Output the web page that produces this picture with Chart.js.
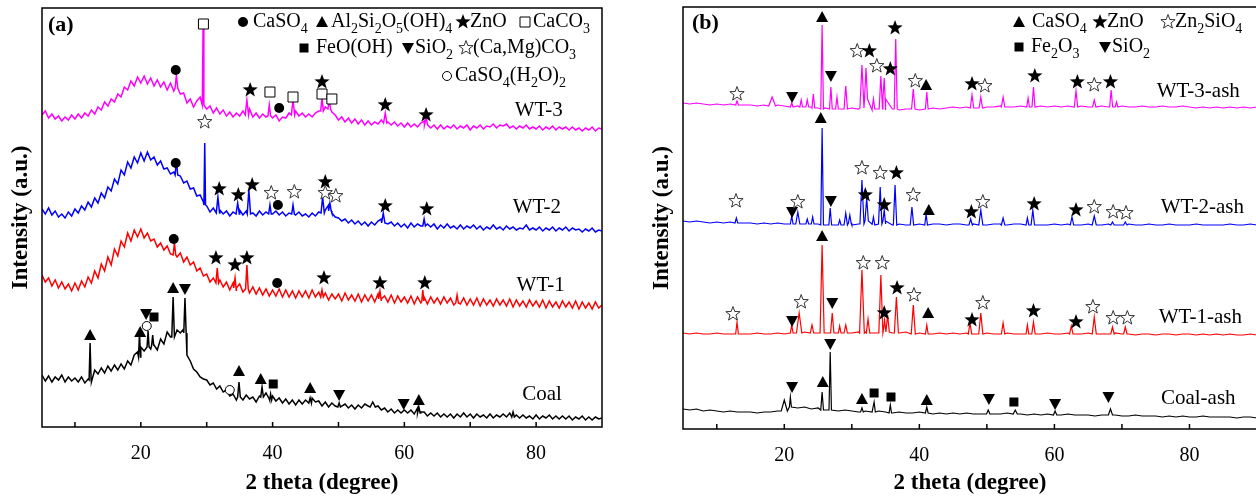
<!DOCTYPE html>
<html lang="en">
<head>
<meta charset="UTF-8">
<title>XRD patterns (a) raw samples, (b) ashes</title>
<script src="https://cdn.jsdelivr.net/npm/chart.js"></script>
<style>
  html, body { margin: 0; background: #fff; overflow: hidden; width: 1256px; height: 499px; }
  canvas { position: absolute; top: 0; }
  #chartA { left: 0; }
  #chartB { left: 630px; }
</style>
</head>
<body>
<canvas id="chartA" width="620" height="499"></canvas>
<canvas id="chartB" width="640" height="499"></canvas>

<script>
const FONT = '"Liberation Serif", "Times New Roman", serif';

// x axis: 2 theta in degrees, ticks every 10, labels every 20
const tickDeg = [10, 20, 30, 40, 50, 60, 70, 80];

// --- panel (a): traces sampled every 0.5 deg from 5 to 90 (stacked intensity, a.u.) ---
const A_START = 5, A_STEP = 0.5;

const wt3A = [
  312,316,309,313,308,311,306,310,307,312,
  308,313,309,314,311,317,313,320,317,325,
  321,328,325,333,330,340,337,346,341,350,
  344,351,343,349,341,347,340,345,337,344,
  336,344,333,334,324,328,320,326,330,318,
  318,321,314,319,313,317,311,315,310,314,
  311,316,318,318,310,314,309,313,310,314,
  309,312,306,310,309,314,315,316,311,314,
  310,313,310,314,316,322,320,324,315,312,
  307,310,305,309,304,308,303,307,302,306,
  302,305,303,307,308,305,302,305,301,304,
  300,304,300,303,300,304,306,304,299,302,
  298,302,298,301,299,302,298,301,299,302,
  297,301,299,302,298,301,300,303,299,302,
  301,303,299,301,298,301,299,302,298,300,
  298,301,297,300,298,301,297,300,298,300,
  297,300,297,299,296,299,297,300,296,299,
  298
];
const wt2A = [
  218,213,219,212,216,210,213,209,215,211,
  218,214,221,217,225,220,229,224,234,229,
  240,236,248,243,257,252,265,259,270,264,
  274,266,275,267,270,262,266,258,259,253,
  255,248,251,244,246,238,239,231,232,225,
  221,215,219,214,217,213,216,211,215,212,
  217,212,216,218,214,211,216,212,215,217,
  213,216,212,215,211,214,216,212,215,211,
  213,210,214,211,215,219,217,222,214,210,
  209,206,208,204,207,203,206,202,205,201,
  205,202,206,208,206,203,205,201,204,200,
  203,199,204,200,203,201,205,203,200,203,
  198,202,199,203,199,201,198,202,198,201,
  199,202,198,201,197,200,198,202,198,200,
  197,201,198,200,197,199,198,202,197,199,
  197,200,196,199,197,200,196,199,197,200,
  196,199,197,198,195,198,196,199,195,197,
  196
];
const wt1A = [
  152,145,149,141,147,139,145,138,143,136,
  144,137,146,140,150,144,156,149,163,156,
  170,162,178,171,186,180,194,186,197,190,
  198,189,194,186,188,180,184,177,181,173,
  178,170,174,165,170,162,165,156,159,151,
  153,145,149,142,147,140,145,137,144,136,
  143,135,142,134,140,133,139,132,138,131,
  137,131,138,130,137,130,136,129,136,130,
  136,129,137,130,135,128,134,127,133,128,
  133,126,134,127,132,126,133,125,132,126,
  132,125,133,126,131,125,132,124,131,125,
  130,124,131,123,130,124,130,123,130,124,
  129,123,130,124,129,122,128,123,129,122,
  128,122,129,121,128,122,127,121,128,122,
  127,121,128,120,127,121,126,120,127,121,
  126,120,127,119,126,120,125,119,126,120,
  125,119,126,118,125,119,124,118,125,119,
  122
];
const coalA = [
  52,46,51,45,50,47,52,45,50,46,
  49,45,50,44,48,45,57,53,59,54,
  61,56,62,57,63,58,66,62,72,75,
  80,76,85,78,82,77,88,83,95,90,
  99,97,94,98,72,66,58,55,50,48,
  47,42,44,38,41,35,37,31,33,27,
  31,27,32,28,30,25,31,29,34,28,
  31,26,29,24,28,23,27,22,27,23,
  27,24,29,25,26,21,25,20,24,21,
  26,21,23,19,22,18,22,19,23,21,
  25,22,21,17,19,15,18,14,17,14,
  17,14,17,13,19,15,15,11,14,11,
  14,10,13,10,13,9,13,10,14,10,
  13,9,13,10,12,9,13,9,12,10,
  13,10,14,11,12,9,12,9,11,8,
  12,8,11,9,12,8,11,8,11,8,
  11,7,10,8,11,7,10,7,10,8,
  9
];

// sharp reflections: [2theta, top, foot, half width]
const wt3PkA = [[25.4,352,339,.2],[29.45,400,322,.12],[36.1,327,312,.25],[39.5,322,311,.2],[43.1,327,312,.25],
  [47.5,329,316,.2],[48.6,327,318,.2],[57.1,314,304,.25],[63.3,309,302,.25]];
const wt2PkA = [[25.4,266,252,.2],[29.7,284,222,.12],[31.7,230,214,.25],[34.7,224,213,.25],[36.4,237,213,.25],
  [39.6,222,213,.2],[43.1,222,213,.2],[47.6,230,214,.25],[48.7,224,216,.2],[56.8,214,204,.25],[63.0,208,201,.2]];
const wt1PkA = [[25.1,184,172,.2],[31.6,159,144,.2],[34.3,149,139,.2],[36.1,162,138,.2],[47.5,137,130,.2],
  [56.3,136,128,.2],[62.8,137,126,.15],[68.0,132,124,.2]];
const coalPkA = [[12.3,84,47,.15],[19.8,94,70,.15],[21.1,96,80,.15],[21.8,92,82,.15],[24.9,130,90,.2],
  [26.7,129,94,.18],[34.9,45,30,.2],[38.4,40,30,.2],[39.7,33,27,.15],[45.7,29,24,.2],[50.1,24,20,.2],
  [55.2,25,20,.4],[62.2,20,14,.2],[76.5,15,10,.2]];

// --- panel (b): ash traces sampled every 1 deg from 5 to 90 ---
const B_START = 5, B_STEP = 1;

const wt3B = [
  326,325,326,325,324,325,324,325,324,324,
  324,323,324,323,324,323,322,323,322,322,
  321,321,320,321,320,321,320,320,319,320,
  319,320,319,320,320,319,320,321,320,321,
  322,321,322,322,321,322,322,323,322,322,
  323,322,322,323,322,323,322,323,322,323,
  322,322,323,322,322,323,322,322,323,322,
  322,323,322,322,323,322,321,322,321,322,
  321,322,321,322,321,322
];
const wt2B = [
  208,207,208,207,206,207,206,207,206,206,
  206,205,206,205,206,205,205,206,205,205,
  205,204,205,204,205,204,205,204,205,204,
  205,204,205,204,205,205,204,205,205,204,
  205,205,204,205,205,204,205,205,204,205,
  205,204,205,204,204,205,204,205,204,204,
  205,204,204,205,204,204,205,204,204,205,
  204,204,205,204,204,204,205,204,204,204,
  204,205,204,204,205,204
];
const wt1B = [
  96,95,96,95,95,96,95,95,96,95,
  95,96,95,95,96,95,96,96,97,96,
  96,96,97,96,97,96,97,97,96,97,
  97,96,96,97,96,96,96,95,96,95,
  96,95,96,95,95,96,95,95,96,95,
  95,96,95,95,96,95,95,96,95,95,
  96,95,95,95,96,95,95,94,95,95,
  94,95,95,94,95,95,94,95,94,95,
  94,95,94,94,95,94
];
const coalB = [
  20,19,20,18,19,18,17,18,17,17,
  17,16,17,17,18,20,22,21,22,20,
  21,19,19,18,19,18,17,18,17,18,
  17,16,17,16,16,17,16,15,16,15,
  16,15,16,15,15,16,15,15,16,15,
  15,14,15,14,15,14,14,15,14,14,
  14,13,14,13,14,13,13,14,13,13,
  13,12,13,12,13,12,12,13,12,12,
  12,12,11,12,12,11
];

const wt3PkB = [[13.0,328,324,.2],[18.2,332,323,.5],[21.1,326,322,.2],[22.5,329,322,.2],[23.4,329,322,.2],
  [24.3,335,321,.2],[25.6,404,320,.2],[26.9,342,320,.2],[27.8,332,320,.2],[29.1,343,320,.25],
  [31.5,364,321,.3],[32.1,361,330,.22],[33.2,330,320,.2],[34.3,353,320,.25],[34.8,351,330,.2],
  [36.5,390,320,.22],[39.1,340,320,.25],[41.1,337,320,.2],[47.8,334,321,.25],[49.1,332,321,.25],
  [52.4,332,322,.25],[56.1,331,322,.2],[56.9,342,322,.22],[63.2,338,322,.25],[65.9,329,322,.25],
  [68.4,339,322,.22],[69.2,327,322,.2]];
const wt2PkB = [[12.9,211,206,.2],[21.1,213,205,.2],[22.0,217,205,.3],[23.4,210,205,.2],[24.2,212,205,.2],
  [25.6,301,204,.2],[26.8,221,204,.2],[28.2,209,204,.2],[29.1,216,204,.25],[29.7,214,206,.2],
  [31.5,249,205,.3],[32.2,231,208,.25],[33.2,212,204,.2],[34.2,242,205,.25],[34.8,219,208,.2],
  [36.4,244,204,.25],[38.9,222,204,.25],[41.0,215,204,.2],[47.6,210,204,.25],[49.1,219,204,.3],
  [52.4,211,204,.25],[56.0,211,204,.2],[56.8,219,204,.25],[62.6,212,204,.25],[65.9,213,204,.3],
  [68.6,207,204,.25],[70.5,207,204,.25]];
const wt1PkB = [[13.0,107,95,.2],[21.1,104,96,.2],[22.2,116,96,.4],[24.1,104,96,.25],[25.6,184,96,.3],
  [27.1,116,96,.25],[28.2,103,96,.2],[29.1,104,96,.25],[31.5,159,96,.35],[32.4,110,96,.25],
  [34.3,154,96,.3],[34.85,109,100,.15],[35.3,114,97,.25],[36.6,132,96,.3],[39.1,124,95,.3],
  [41.1,104,95,.2],[47.5,106,95,.25],[49.1,116,95,.3],[52.4,106,95,.25],[56.0,104,95,.2],
  [56.9,107,95,.25],[62.5,103,95,.25],[65.9,112,95,.3],[68.6,102,95,.25],[70.5,102,95,.25]];
const coalPkB = [[20.0,29,18,.45],[20.9,32,22,.15],[25.6,37,19,.2],[26.8,77,19,.18],[31.5,21,17,.2],
  [33.3,27,17,.18],[35.7,24,16,.18],[41.1,22,16,.2],[50.2,19,15,.25],[54.2,19,15,.3],
  [60.1,18,14,.25],[68.3,20,14,.3]];

// phase markers: [symbol, 2theta, intensity]
const marksA = [
  ['dot',25.3,357],['sq',29.5,403],['ostar',29.7,305],['star',36.6,337],['sq',39.6,335],['dot',41.0,319],
  ['sq',43.1,330],['star',47.5,345],['sq',47.5,333],['sq',49.0,328],['star',57.1,322],['star',63.3,312],
  ['dot',25.3,264],['star',31.9,238],['star',34.8,232],['star',36.9,242],['ostar',39.8,234],['dot',40.8,222],
  ['ostar',43.3,235],['star',48.0,245],['ostar',48.0,234],['ostar',49.6,231],['star',57.1,221],['star',63.4,218],
  ['dot',25.0,188],['star',31.4,169],['star',34.3,162],['star',36.1,169],['dot',40.7,144],['star',47.8,149],
  ['star',56.3,144],['star',63.1,144],
  ['tri',12.3,92],['tri',19.9,95],['dtri',20.8,113],['fsq',22.0,110],['ocirc',20.9,101],['tri',24.9,139],
  ['dtri',26.7,138],['ocirc',33.5,37],['tri',34.9,56],['tri',38.2,48],['fsq',40.1,43],['tri',45.7,39],
  ['dtri',50.1,32],['dtri',59.9,23],['tri',62.2,27]
];
const marksB = [
  ['ostar',13.0,335],['dtri',21.15,332],['tri',25.6,412],['dtri',26.9,353],['ostar',30.8,378],['star',32.6,378],
  ['ostar',33.7,363],['star',35.7,360],['star',36.4,401],['ostar',39.4,348],['tri',41.0,344],['star',47.8,345],
  ['ostar',49.7,343],['star',57.1,353],['star',63.4,347],['ostar',65.9,344],['star',68.3,347],
  ['ostar',12.85,228],['dtri',21.15,217],['ostar',22.0,227],['tri',25.4,311],['dtri',26.9,228],['ostar',31.5,261],
  ['star',32.0,234],['ostar',34.2,256],['star',34.8,224],['star',36.6,256],['ostar',39.1,234],['tri',41.4,219],
  ['star',47.7,217],['ostar',49.4,227],['star',57.0,225],['star',63.2,219],['ostar',65.9,222],['ostar',68.7,217],
  ['ostar',70.6,216],
  ['ostar',12.4,115],['dtri',21.15,108],['ostar',22.5,127],['tri',25.6,193],['dtri',27.1,126],['ostar',31.7,166],
  ['ostar',34.5,166],['star',34.8,116],['star',36.7,141],['ostar',39.2,134],['tri',41.3,116],['star',47.8,109],
  ['ostar',49.4,126],['star',56.9,118],['star',63.2,107],['ostar',65.7,122],['ostar',68.7,111],['ostar',70.8,111],
  ['dtri',21.15,42],['tri',25.7,47],['dtri',26.8,85],['tri',31.5,30],['fsq',33.3,36],['fsq',35.8,32],
  ['tri',41.1,29],['dtri',50.3,30],['fsq',54.0,27],['dtri',60.1,25],['dtri',68.0,32]
];

// sample names: [text, 2theta, intensity]
const namesA = [['WT-3',80.4,317],['WT-2',80.1,220],['WT-1',80.7,142],['Coal',80.9,33]];
const namesB = [['WT-3-ash',81.3,338],['WT-2-ash',81.9,222],['WT-1-ash',81.6,112],['Coal-ash',81.3,31]];

// phase keys: [symbol, symbol x, text x, y, text]  ("_n" = subscript)
const keyA = [
  ['dot',243,253,22,'CaSO_4'],['tri',322,331,22,'Al_2Si_2O_5(OH)_4'],['star',463,470,22,'ZnO'],
  ['sq',525,533,22,'CaCO_3'],['fsq',304,316,48,'FeO(OH)'],['dtri',408,415,48,'SiO_2'],
  ['ostar',466,473,48,'(Ca,Mg)CO_3'],['ocirc',447,455,76,'CaSO_4(H_2O)_2']
];
const keyB = [
  ['tri',389,402,22,'CaSO_4'],['star',470,477,22,'ZnO'],['ostar',538,545,22,'Zn_2SiO_4'],
  ['fsq',389,401,47,'Fe_2O_3'],['dtri',475,482,47,'SiO_2']
];

function buildTrace(base, start, step, peaks) {
  const pts = [];
  base.forEach((v, i) => {
    const x = start + i * step;
    if (!peaks.some(p => Math.abs(x - p[0]) <= p[3])) pts.push({ x, y: v });
  });
  peaks.forEach(([x, top, foot, hw]) => {
    pts.push({ x: x - hw, y: foot }, { x, y: top }, { x: x + hw, y: foot });
  });
  return pts.sort((a, b) => a.x - b.x);
}

function starPath(ctx, x, y, R, r) {
  ctx.beginPath();
  for (let i = 0; i < 10; i++) {
    const a = -Math.PI / 2 + i * Math.PI / 5;
    const rad = i % 2 ? r : R;
    ctx.lineTo(x + rad * Math.cos(a), y + rad * Math.sin(a));
  }
  ctx.closePath();
}

function drawMark(ctx, type, x, y) {
  ctx.fillStyle = '#000';
  ctx.strokeStyle = '#000';
  ctx.lineWidth = 1;
  ctx.beginPath();
  if (type === 'dot') { ctx.arc(x, y, 5, 0, 2 * Math.PI); ctx.fill(); }
  else if (type === 'ocirc') { ctx.arc(x, y, 4.5, 0, 2 * Math.PI); ctx.fillStyle = '#fff'; ctx.fill(); ctx.stroke(); }
  else if (type === 'tri') { ctx.moveTo(x, y - 6); ctx.lineTo(x + 6, y + 5); ctx.lineTo(x - 6, y + 5); ctx.closePath(); ctx.fill(); }
  else if (type === 'dtri') { ctx.moveTo(x, y + 6); ctx.lineTo(x + 6, y - 5); ctx.lineTo(x - 6, y - 5); ctx.closePath(); ctx.fill(); }
  else if (type === 'sq') { ctx.rect(x - 5, y - 5, 10, 10); ctx.fillStyle = '#fff'; ctx.fill(); ctx.stroke(); }
  else if (type === 'fsq') { ctx.rect(x - 4.5, y - 4.5, 9, 9); ctx.fill(); }
  else if (type === 'star') { starPath(ctx, x, y, 8, 3.3); ctx.fill(); }
  else if (type === 'ostar') { starPath(ctx, x, y, 7.5, 3.1); ctx.fillStyle = '#fff'; ctx.fill(); ctx.strokeStyle = '#333'; ctx.stroke(); }
}

function richText(ctx, str, x, y) {
  ctx.textAlign = 'left';
  ctx.textBaseline = 'middle';
  ctx.fillStyle = '#000';
  str.split(/(_\d)/).forEach(part => {
    if (!part) return;
    const sub = part[0] === '_';
    const t = sub ? part.slice(1) : part;
    ctx.font = (sub ? '14px ' : '20px ') + FONT;
    ctx.fillText(t, x, sub ? y + 7 : y);
    x += ctx.measureText(t).width;
  });
}

// box around the plot with inward ticks on the 2 theta axis
const frame = {
  id: 'frame',
  afterDraw(chart) {
    const { ctx, chartArea: a, scales: { x } } = chart;
    ctx.save();
    ctx.strokeStyle = '#000';
    ctx.lineWidth = 1.5;
    ctx.strokeRect(a.left, a.top, a.right - a.left, a.bottom - a.top);
    x.ticks.forEach(t => {
      const px = x.getPixelForValue(t.value);
      ctx.beginPath();
      ctx.moveTo(px, a.bottom);
      ctx.lineTo(px, a.bottom - 5);
      ctx.stroke();
    });
    ctx.restore();
  }
};

// phase symbols, sample names, key and panel tag
const notes = {
  id: 'notes',
  afterDatasetsDraw(chart, args, o) {
    const { ctx, scales: { x, y } } = chart;
    ctx.save();
    o.marks.forEach(([t, d, v]) => drawMark(ctx, t, x.getPixelForValue(d), y.getPixelForValue(v)));
    ctx.font = '21px ' + FONT;
    ctx.textAlign = 'center';
    ctx.textBaseline = 'middle';
    ctx.fillStyle = '#000';
    o.names.forEach(([t, d, v]) => ctx.fillText(t, x.getPixelForValue(d), y.getPixelForValue(v)));
    o.key.forEach(([t, sx, tx, ly, txt]) => { drawMark(ctx, t, sx, ly); richText(ctx, txt, tx, ly); });
    ctx.font = 'bold 22px ' + FONT;
    ctx.textAlign = 'left';
    ctx.fillStyle = '#000';
    ctx.fillText(o.tag[0], o.tag[1], o.tag[2]);
    ctx.restore();
  }
};

function xrdChart(id, cfg) {
  return new Chart(document.getElementById(id), {
    type: 'line',
    data: {
      datasets: cfg.traces.map(t => ({
        data: t.points, borderColor: t.color, borderWidth: cfg.lineWidth, pointRadius: 0, tension: 0
      }))
    },
    options: {
      responsive: false,
      animation: false,
      events: [],
      layout: { padding: cfg.pad },
      plugins: { legend: { display: false }, tooltip: { enabled: false }, notes: cfg.notes },
      scales: {
        x: {
          type: 'linear', min: 5, max: 90,
          grid: { display: false }, border: { display: false },
          afterBuildTicks: s => { s.ticks = tickDeg.map(v => ({ value: v })); },
          ticks: { callback: v => (v % 20 === 0 ? v : ''), font: { family: FONT, size: 20 }, color: '#000',
                   padding: 7, autoSkip: false, maxRotation: 0 },
          title: { display: true, text: '2 theta (degree)', color: '#000',
                   font: { family: FONT, size: 23, weight: 'bold' }, padding: { top: 0, bottom: 2 } },
          afterFit: s => { s.height = cfg.xHeight; }
        },
        y: {
          min: 0, max: cfg.yMax,
          grid: { display: false }, border: { display: false },
          ticks: { display: false },
          title: { display: true, text: 'Intensity (a.u.)', color: '#000',
                   font: { family: FONT, size: 23, weight: 'bold' }, padding: { top: cfg.yTitlePad, bottom: 0 } },
          afterFit: s => { s.width = cfg.yWidth; }
        }
      }
    },
    plugins: [notes, frame]
  });
}

xrdChart('chartA', {
  pad: { left: 0, top: 8, right: 18, bottom: 0 }, xHeight: 72, yWidth: 42, yMax: 419, yTitlePad: 7,
  lineWidth: 1.5,
  traces: [
    { color: '#000000', points: buildTrace(coalA, A_START, A_STEP, coalPkA) },
    { color: '#ff0000', points: buildTrace(wt1A, A_START, A_STEP, wt1PkA) },
    { color: '#0000ff', points: buildTrace(wt2A, A_START, A_STEP, wt2PkA) },
    { color: '#ff00ff', points: buildTrace(wt3A, A_START, A_STEP, wt3PkA) }
  ],
  notes: { marks: marksA, names: namesA, key: keyA, tag: ['(a)', 48, 25] }
});

xrdChart('chartB', {
  pad: { left: 0, top: 7, right: 13, bottom: 0 }, xHeight: 70, yWidth: 53, yMax: 422, yTitlePad: 18,
  lineWidth: 1.2,
  traces: [
    { color: '#000000', points: buildTrace(coalB, B_START, B_STEP, coalPkB) },
    { color: '#ff0000', points: buildTrace(wt1B, B_START, B_STEP, wt1PkB) },
    { color: '#0000ff', points: buildTrace(wt2B, B_START, B_STEP, wt2PkB) },
    { color: '#ff00ff', points: buildTrace(wt3B, B_START, B_STEP, wt3PkB) }
  ],
  notes: { marks: marksB, names: namesB, key: keyB, tag: ['(b)', 62, 23] }
});
</script>
</body>
</html>
